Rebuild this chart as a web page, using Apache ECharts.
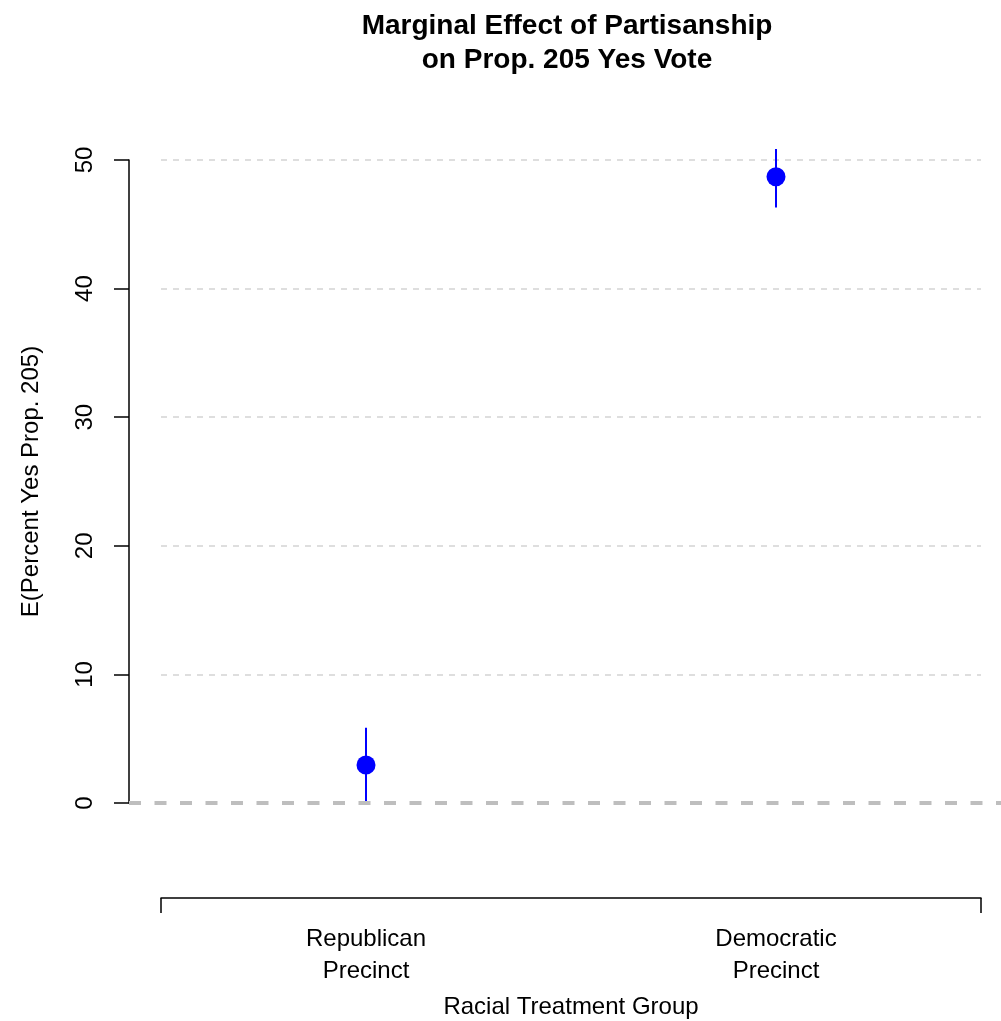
<!DOCTYPE html>
<html>
<head>
<meta charset="utf-8">
<script src="https://cdn.jsdelivr.net/npm/echarts@6/dist/echarts.min.js"></script>
<style>
  html, body { margin: 0; padding: 0; background: #fff; }
  #main { width: 1001px; height: 1021px; }
</style>
</head>
<body>
<div id="main"></div>
<script>
// data
var groups = ['Republican\nPrecinct', 'Democratic\nPrecinct'];
var groupPos = [1, 2];
var estimate = [2.95, 48.7];
var ciLow = [0.15, 46.3];
var ciHigh = [5.85, 50.85];
var yTicks = [0, 10, 20, 30, 40, 50];
var refLine = 0;

var font = 'Liberation Sans, Arial, sans-serif';

var myChart = echarts.init(document.getElementById('main'));

var points = groupPos.map(function (x, i) { return [x, estimate[i]]; });
var bars = groupPos.map(function (x, i) { return [x, ciLow[i], ciHigh[i]]; });
// no light grid line under the zero reference line
var gridColors = yTicks.map(function (t) { return t === refLine ? 'rgba(0,0,0,0)' : '#d3d3d3'; });

option = {
	animation: false,
	backgroundColor: '#fff',
	title: {
		text: 'Marginal Effect of Partisanship\non Prop. 205 Yes Vote',
		left: 562,
		top: 4,
		textAlign: 'center',
		textStyle: {
			fontFamily: font,
			fontWeight: 'bold',
			fontSize: 28,
			lineHeight: 34,
			color: '#000'
		}
	},
	grid: [
		// plot region
		{ left: 161, right: 20, top: 160, bottom: 218, outerBoundsMode: 'none' },
		// wider region for the zero reference line
		{ left: 129, right: 0, top: 160, bottom: 218, outerBoundsMode: 'none' }
	],
	xAxis: [{
		type: 'value',
		gridIndex: 0,
		min: 0.5,
		max: 2.5,
		offset: 95,
		axisLine: { show: true, onZero: false, lineStyle: { color: '#000', width: 1.5 } },
		axisTick: {
			show: true,
			length: 15,
			customValues: [0.5, 2.5],
			lineStyle: { color: '#000', width: 1.5 }
		},
		splitLine: { show: false },
		axisLabel: {
			customValues: groupPos,
			formatter: function (v) { return groups[groupPos.indexOf(v)] || ''; },
			fontFamily: font,
			fontSize: 24,
			lineHeight: 32,
			color: '#000',
			margin: 25
		},
		name: 'Racial Treatment Group',
		nameLocation: 'middle',
		nameGap: 97,
		nameTextStyle: { fontFamily: font, fontSize: 24, color: '#000' }
	}, {
		type: 'value',
		gridIndex: 1,
		min: 0,
		max: 1,
		show: false
	}],
	yAxis: [{
		type: 'value',
		gridIndex: 0,
		min: 0,
		max: 50,
		interval: 10,
		offset: 32,
		axisLine: { show: true, lineStyle: { color: '#000', width: 1.5 } },
		axisTick: { show: true, length: 15, lineStyle: { color: '#000', width: 1.5 } },
		axisLabel: {
			rotate: 90,
			fontFamily: font,
			fontSize: 24,
			color: '#000',
			margin: 32,
			customValues: yTicks
		},
		splitLine: {
			show: true,
			lineStyle: { color: gridColors, width: 1.5, type: [6, 6] }
		},
		name: 'E(Percent Yes Prop. 205)',
		nameLocation: 'middle',
		nameGap: 86,
		nameTextStyle: { fontFamily: font, fontSize: 24, color: '#000' }
	}, {
		type: 'value',
		gridIndex: 1,
		min: 0,
		max: 50,
		show: false
	}],
	series: [{
		// zero reference line
		type: 'line',
		xAxisIndex: 1,
		yAxisIndex: 1,
		data: [[0, refLine], [1, refLine]],
		symbol: 'none',
		silent: true,
		lineStyle: { color: '#bebebe', width: 4, type: [12, 13.5] },
		z: 1
	}, {
		// confidence intervals
		type: 'custom',
		xAxisIndex: 0,
		yAxisIndex: 0,
		data: bars,
		renderItem: function (params, api) {
			var p1 = api.coord([api.value(0), api.value(1)]);
			var p2 = api.coord([api.value(0), api.value(2)]);
			return {
				type: 'line',
				shape: { x1: p1[0], y1: p1[1], x2: p2[0], y2: p2[1] },
				style: { stroke: '#0000ff', lineWidth: 2 }
			};
		},
		z: 3
	}, {
		type: 'scatter',
		xAxisIndex: 0,
		yAxisIndex: 0,
		data: points,
		symbol: 'circle',
		symbolSize: 19,
		itemStyle: { color: '#0000ff', opacity: 1 },
		z: 4
	}]
};

myChart.setOption(option);
window.addEventListener('resize', function () {
	myChart.resize();
});
</script>
</body>
</html>
